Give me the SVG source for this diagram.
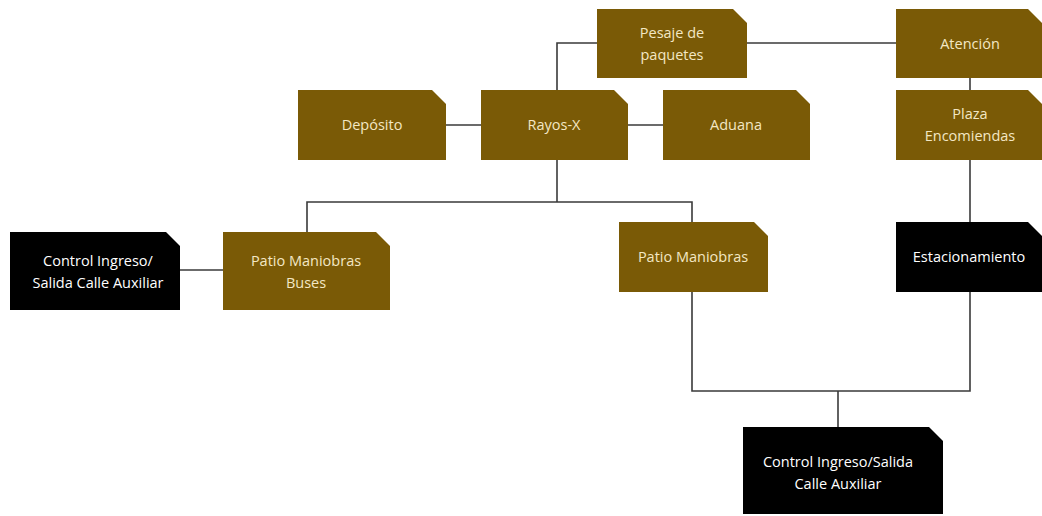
<svg xmlns="http://www.w3.org/2000/svg" width="1042" height="516" viewBox="0 0 1042 516">
<defs>
<style>
.b{fill:#7a5a06}
.k{fill:#000}
text{font-family:"Open Sans","Liberation Sans",sans-serif;font-size:14.5px;text-anchor:middle}
.tb{fill:#f3e7c4}
.tk{fill:#ffffff}
.c{fill:none;stroke:#3a3a3a;stroke-width:1.6}
</style>
</defs>
<rect width="1042" height="516" fill="#fff"/>
<g id="connectors">
<polyline class="c" points="597,43 557,43 557,90"/>
<line class="c" x1="747" y1="43" x2="896" y2="43"/>
<line class="c" x1="970" y1="78" x2="970" y2="90"/>
<line class="c" x1="446" y1="125" x2="481" y2="125"/>
<line class="c" x1="628" y1="125" x2="663" y2="125"/>
<line class="c" x1="557" y1="160" x2="557" y2="202"/>
<polyline class="c" points="307,232 307,202 692,202 692,222"/>
<line class="c" x1="180" y1="270" x2="223" y2="270"/>
<line class="c" x1="970" y1="160" x2="970" y2="222"/>
<polyline class="c" points="692,292 692,391 970,391 970,292"/>
<line class="c" x1="838" y1="391" x2="838" y2="427"/>
</g>
<g id="pesaje">
<path class="b" d="M597,9 H733 L747,23 V78 H597 Z"/>
<text class="tb" x="672" y="38">Pesaje de</text>
<text class="tb" x="672" y="60">paquetes</text>
</g>
<g id="atencion">
<path class="b" d="M896,9 H1028 L1042,23 V78 H896 Z"/>
<text class="tb" x="970" y="49">Atención</text>
</g>
<g id="plaza">
<path class="b" d="M896,90 H1028 L1042,104 V160 H896 Z"/>
<text class="tb" x="970" y="119">Plaza</text>
<text class="tb" x="970" y="141">Encomiendas</text>
</g>
<g id="deposito">
<path class="b" d="M298,90 H432 L446,104 V160 H298 Z"/>
<text class="tb" x="372" y="130">Depósito</text>
</g>
<g id="rayos">
<path class="b" d="M481,90 H614 L628,104 V160 H481 Z"/>
<text class="tb" x="554" y="130">Rayos-X</text>
</g>
<g id="aduana">
<path class="b" d="M663,90 H796 L810,104 V160 H663 Z"/>
<text class="tb" x="736" y="130">Aduana</text>
</g>
<g id="control-left">
<path class="k" d="M10,232 H166 L180,246 V310 H10 Z"/>
<text class="tk" x="98" y="266">Control Ingreso/</text>
<text class="tk" x="98" y="288">Salida Calle Auxiliar</text>
</g>
<g id="patio-buses">
<path class="b" d="M223,232 H376 L390,246 V310 H223 Z"/>
<text class="tb" x="306" y="266">Patio Maniobras</text>
<text class="tb" x="306" y="288">Buses</text>
</g>
<g id="patio">
<path class="b" d="M619,222 H754 L768,236 V292 H619 Z"/>
<text class="tb" x="693" y="262">Patio Maniobras</text>
</g>
<g id="estacionamiento">
<path class="k" d="M896,222 H1028 L1042,236 V292 H896 Z"/>
<text class="tk" x="969" y="262">Estacionamiento</text>
</g>
<g id="control-bottom">
<path class="k" d="M743,427 H929 L943,441 V514 H743 Z"/>
<text class="tk" x="838" y="467">Control Ingreso/Salida</text>
<text class="tk" x="838" y="489">Calle Auxiliar</text>
</g>
</svg>
